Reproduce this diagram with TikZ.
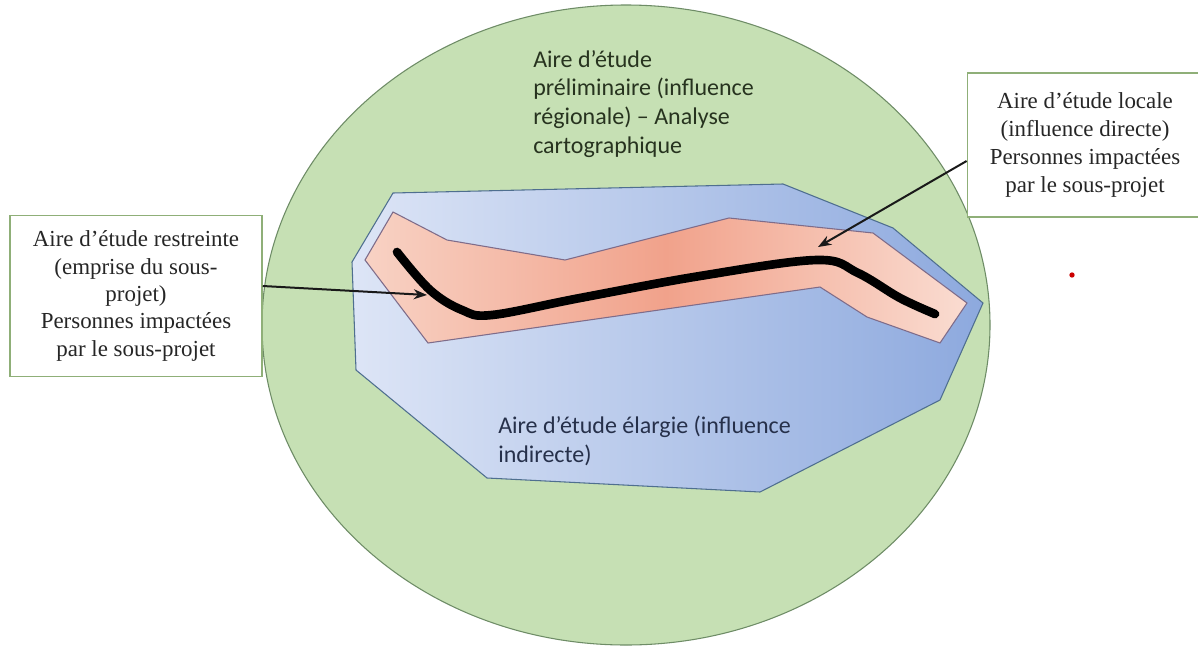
\documentclass[tikz,border=0pt]{standalone}
\usepackage{fontspec}
\newfontfamily\calib{Carlito}
\newfontfamily\tnr{Liberation Serif}
\usetikzlibrary{arrows.meta}
\definecolor{zonegreen}{HTML}{C6E0B4}
\definecolor{zonegreenline}{HTML}{6E8C66}
\definecolor{blueL}{HTML}{DDE5F6}
\definecolor{blueR}{HTML}{8DA9DE}
\definecolor{blueline}{HTML}{4F6F8F}
\definecolor{pinkL}{HTML}{F8D2C4}
\definecolor{pinkD}{HTML}{F1A28B}
\definecolor{pinkR}{HTML}{FADCD1}
\definecolor{pinkline}{HTML}{7E6C8A}
\definecolor{boxgreen}{HTML}{8FAF78}
\definecolor{greentext}{HTML}{27331F}
\definecolor{bluetext}{HTML}{26304A}
\begin{document}
\begin{tikzpicture}[x=0.75pt,y=-0.75pt,
  zoneline/.style={line width=0.8pt},
  callout/.style={draw=boxgreen, line width=1.1pt, fill=white, inner sep=0pt},
  boxtext/.style={font=\tnr\fontsize{17.2}{20.5}\selectfont, align=center, inner sep=0pt, text=black!85},
  zonetext/.style={font=\calib\fontsize{18}{21.6}\selectfont, align=left, inner sep=0pt},
  pointer/.style={-{Stealth[length=10pt,width=7.5pt]}, line width=1.5pt, black!90},
  route/.style={line width=6.5pt, line cap=round, line join=round, black}]
\useasboundingbox (0,0) rectangle (1198,646);
\clip (0,0) rectangle (1198,646);
\fill[white] (0,0) rectangle (1198,646);

% regional zone
\filldraw[fill=zonegreen, draw=zonegreenline, zoneline] (626,325) ellipse [x radius=273pt, y radius=240pt];

% wider zone
\draw[zoneline, draw=blueline, left color=blueL, right color=blueR]
  (393,193) -- (783,184) -- (893,228) -- (983,303) -- (940,400) -- (760,492)
  -- (487,478) -- (356,370) -- (352,262) -- cycle;

% local zone
\draw[zoneline, draw=pinkline, left color=pinkL, right color=pinkR, middle color=pinkD]
  (393,212) -- (447,240) -- (565,260) -- (729,218) -- (873,233) -- (967,303)
  -- (940,343) -- (867,317) -- (820,287) -- (428,343) -- (365,260) -- cycle;

% route
\draw[route] plot[smooth, tension=0.6] coordinates {(397,252) (430,290) (462,310) (492,315) (580,298) (700,276) (817,260) (858,273) (900,298) (935,314)};

% zone texts
\node[zonetext, text=greentext, anchor=north west] (tpre) at (533,50)
  {Aire d’étude\\préliminaire (influence\\régionale) – Analyse\\cartographique};
\node[zonetext, text=bluetext, anchor=north west] (tlarge) at (498,416)
  {Aire d’étude élargie (influence\\indirecte)};

% callouts
\node[callout, minimum width=189pt, minimum height=121pt] (lbox) at (136,296) {};
\node[boxtext] (ltext) at (136,296)
  {Aire d’étude restreinte\\(emprise du sous-\\projet)\\Personnes impactées\\par le sous-projet};
\node[callout, minimum width=184pt, minimum height=108pt] (rbox) at (1090,145) {};
\node[boxtext, font=\tnr\fontsize{17.2}{21}\selectfont] (rtext) at (1085,145)
  {Aire d’étude locale\\(influence directe)\\Personnes impactées\\par le sous-projet};

% pointers
\coordinate (tipL) at (427,295);
\coordinate (tipR) at (818,247);
\draw[pointer] ([yshift=7.5pt]lbox.east) -- (tipL);
\draw[pointer] ([yshift=-12pt]rbox.west) -- (tipR);

% red dot
\fill[red!80!black] (1072,275) circle (2pt);
\end{tikzpicture}
\end{document}
